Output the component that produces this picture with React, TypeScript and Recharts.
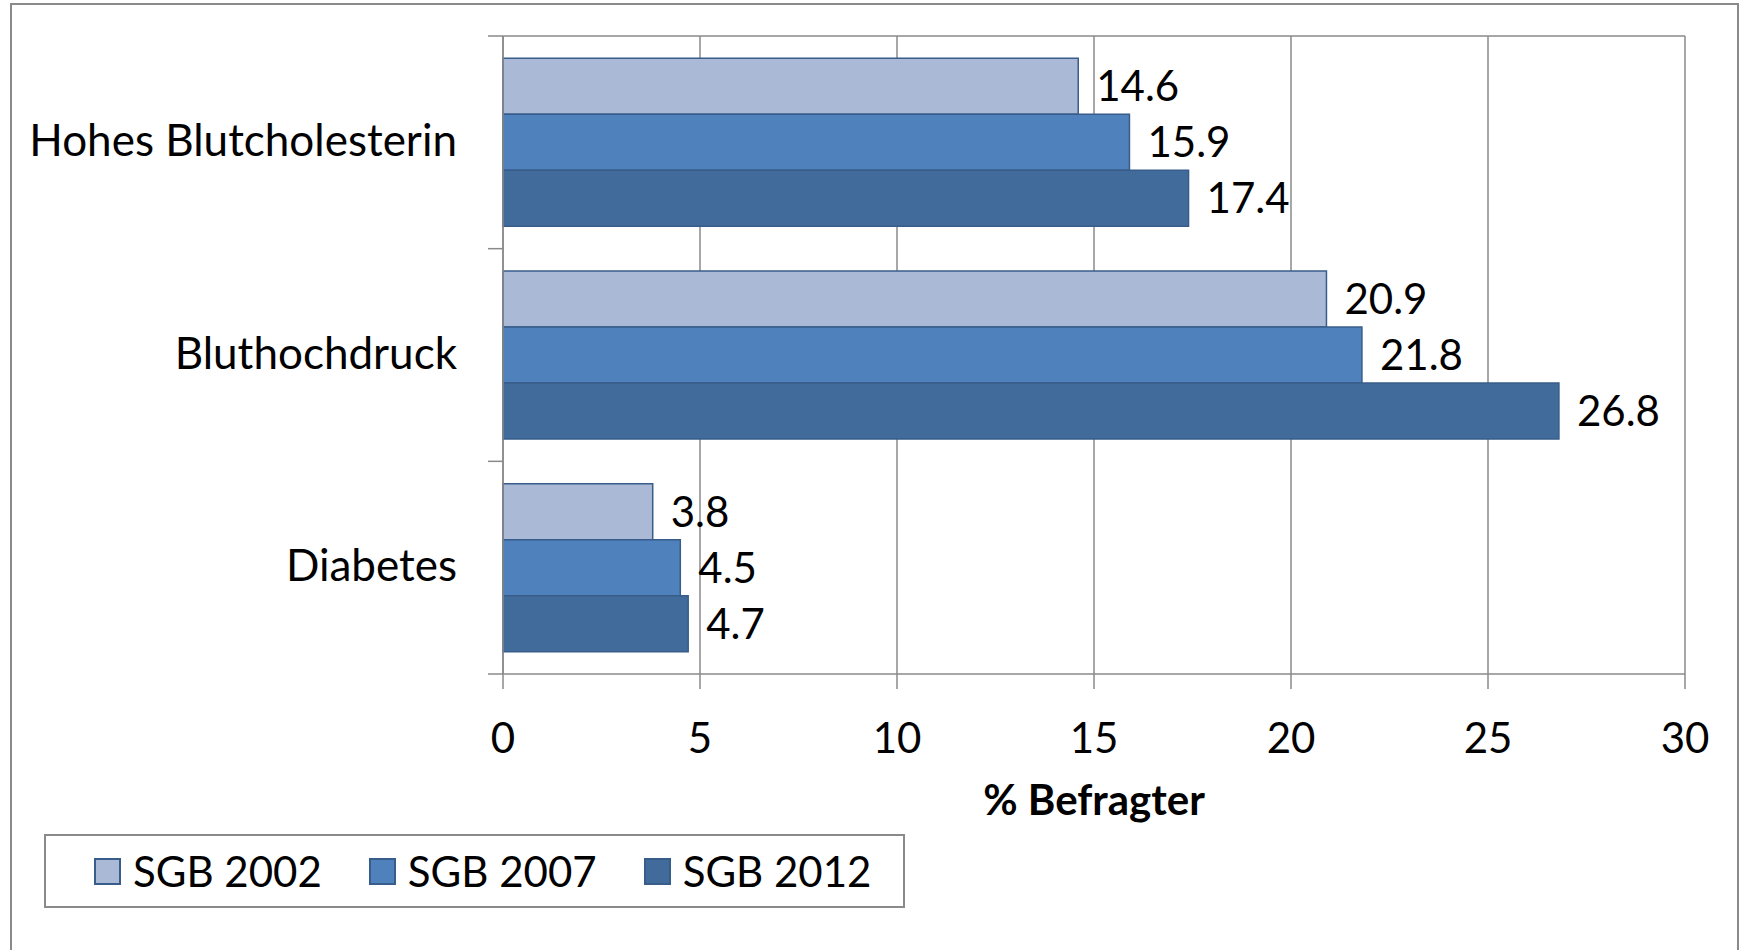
import React from "react";
import {
  BarChart,
  Bar,
  XAxis,
  YAxis,
  CartesianGrid,
  Legend,
  LabelList,
} from "recharts";

const categories = ["Hohes Blutcholesterin", "Bluthochdruck", "Diabetes"];
const sgb2002 = [14.6, 20.9, 3.8];
const sgb2007 = [15.9, 21.8, 4.5];
const sgb2012 = [17.4, 26.8, 4.7];
const xTicks = [0, 5, 10, 15, 20, 25, 30];
const edgeTicks = [0, 1, 2, 3];

const SERIES = [
  { key: "s2002", name: "SGB 2002", fill: "#AAB9D6" },
  { key: "s2007", name: "SGB 2007", fill: "#4F81BD" },
  { key: "s2012", name: "SGB 2012", fill: "#406B9B" },
];

const FONT = "Lato, 'Noto Sans', sans-serif";
const GRID = "#8a8a8a";
const EDGE = "#385D8A";

const data = categories.map((name, i) => ({
  name,
  s2002: sgb2002[i],
  s2007: sgb2007[i],
  s2012: sgb2012[i],
}));

// tick marks only, no text: the category borders get their own little axis
const NoLabel = () => <g />;
const zero = () => 0;

function LegendBox({ payload }: any) {
  return (
    <div
      style={{
        boxSizing: "border-box",
        height: 74,
        width: 861,
        border: `2px solid ${GRID}`,
        display: "flex",
        alignItems: "center",
        paddingLeft: 48,
        fontFamily: FONT,
        fontSize: 42,
        color: "#000",
        whiteSpace: "nowrap",
      }}
    >
      {(payload || []).map((p: any) => (
        <div key={p.value} style={{ display: "flex", alignItems: "center", marginRight: 47, flexShrink: 0 }}>
          <span
            style={{
              boxSizing: "border-box",
              width: 27,
              height: 27,
              background: p.color,
              border: `2px solid ${EDGE}`,
              marginRight: 12,
            }}
          />
          <span style={{ lineHeight: "42px" }}>{p.value}</span>
        </div>
      ))}
    </div>
  );
}

export default function App() {
  return (
    <div style={{ position: "absolute", left: 0, top: 0, width: 1745, height: 950, background: "#fff" }}>
      <div
        style={{
          position: "absolute",
          left: 10,
          top: 3,
          width: 1729,
          height: 947,
          boxSizing: "border-box",
          border: `2px solid ${GRID}`,
          borderBottom: "none",
        }}
      />
      <div style={{ position: "absolute", left: 0, top: 0 }}>
        <BarChart
          width={1745}
          height={950}
          data={data}
          layout="vertical"
          margin={{ top: 35, right: 60, left: 0, bottom: 52 }}
          barCategoryGap="10.5%"
          barGap={0}
        >
          <CartesianGrid horizontal={false} stroke={GRID} strokeWidth={1.5} />
          <XAxis
            type="number"
            domain={[0, 30]}
            ticks={xTicks}
            interval={0}
            height={150}
            tickSize={15}
            tickMargin={34}
            stroke={GRID}
            strokeWidth={1.5}
            tick={{ fill: "#000", fontSize: 42, fontFamily: FONT }}
            label={{
              value: "% Befragter",
              position: "insideBottom",
              offset: 9,
              fontSize: 42,
              fontWeight: 700,
              fill: "#000",
              fontFamily: FONT,
            }}
          />
          {/* top frame line of the plot area */}
          <XAxis
            xAxisId="top"
            orientation="top"
            type="number"
            dataKey={zero}
            domain={[0, 30]}
            allowDataOverflow
            height={1}
            tick={false}
            tickLine={false}
            axisLine={{ stroke: GRID, strokeWidth: 1.5 }}
          />
          <YAxis
            yAxisId="cat"
            type="category"
            dataKey="name"
            width={502}
            axisLine={false}
            tickLine={false}
            tickSize={0}
            tickMargin={45}
            tick={{ fill: "#000", fontSize: 44, fontFamily: FONT, dy: -2 }}
          />
          <YAxis
            yAxisId="aEdges"
            type="number"
            dataKey={zero}
            domain={[0, 3]}
            allowDataOverflow
            ticks={edgeTicks}
            interval={0}
            width={1}
            tick={NoLabel}
            tickLine={{ stroke: GRID, strokeWidth: 1.5 }}
            tickSize={15}
            axisLine={{ stroke: GRID, strokeWidth: 1.5 }}
          />
          <Legend
            verticalAlign="bottom"
            content={<LegendBox />}
            wrapperStyle={{ left: 44, top: 834, width: 861, height: 74 }}
          />
          {SERIES.map((s) => (
            <Bar
              key={s.key}
              yAxisId="cat"
              dataKey={s.key}
              name={s.name}
              fill={s.fill}
              stroke={EDGE}
              strokeWidth={1.5}
              isAnimationActive={false}
            >
              <LabelList
                dataKey={s.key}
                position="right"
                offset={18}
                fill="#000"
                fontSize={42}
                fontFamily={FONT}
              />
            </Bar>
          ))}
        </BarChart>
      </div>
    </div>
  );
}
